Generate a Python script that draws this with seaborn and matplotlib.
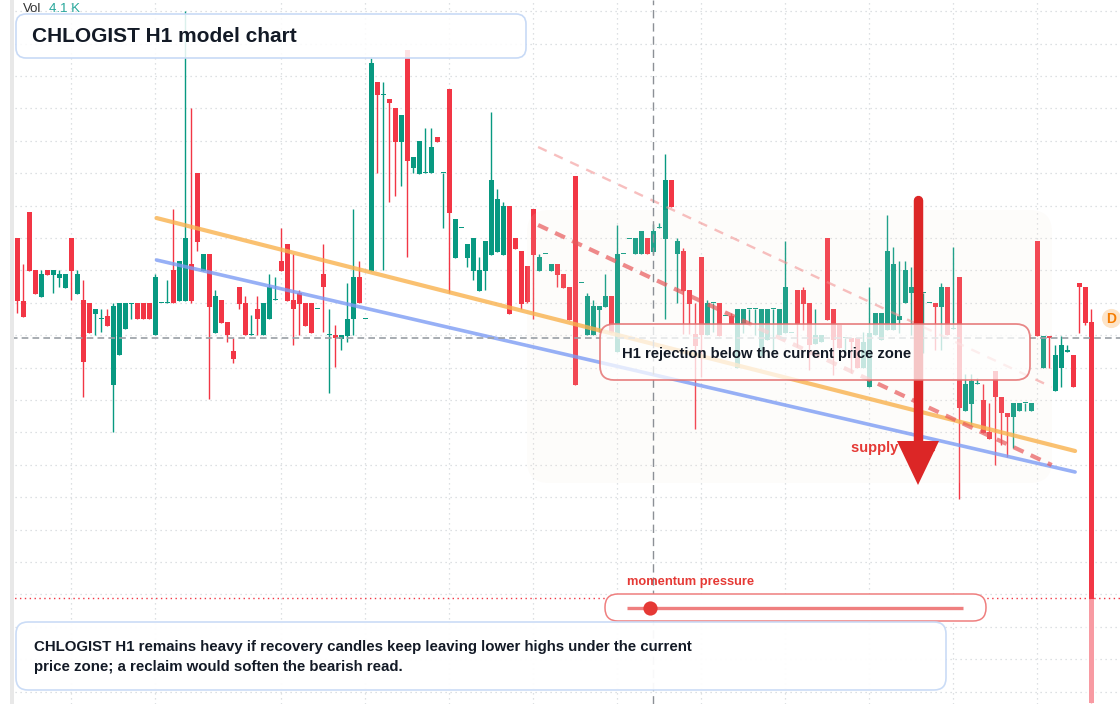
import numpy as np
import matplotlib
matplotlib.use("Agg")
import matplotlib.pyplot as plt
import seaborn as sns
from matplotlib.patches import FancyBboxPatch, Polygon, Rectangle

# OHLC per hourly candle (price units)
opens = [46.6, 40.3, 49.2, 43.4, 40.7, 43.4, 42.9, 42.6, 41.6, 46.6,
         41.0, 40.4, 40.1, 39.0, 38.5, 38.8, 31.9, 34.9, 37.5, 40.0,
         40.1, 40.1, 40.1, 36.9, 40.1, 40.1, 43.4, 40.3, 40.3, 44.0,
         53.1, 43.3, 45.0, 37.1, 40.4, 38.2, 35.3, 41.7, 40.1, 36.9,
         39.5, 36.9, 38.5, 40.4, 44.3, 46.0, 40.4, 41.1, 40.1, 40.1,
         39.5, 43.0, 36.9, 36.9, 36.5, 36.8, 38.5, 42.7, 38.5, 43.3,
         62.2, 60.9, 60.5, 59.6, 56.2, 65.4, 53.6, 53.0, 53.1, 53.1,
         56.7, 53.1, 61.5, 44.6, 47.6, 44.6, 43.3, 41.3, 43.3, 44.9,
         45.2, 44.9, 49.8, 46.6, 45.3, 43.8, 49.5, 43.3, 45.0, 43.3,
         44.0, 43.0, 41.7, 52.8, 42.1, 36.9, 36.9, 39.4, 39.7, 40.8,
         35.2, 45.0, 46.5, 45.0, 45.0, 46.6, 45.2, 47.6, 46.5, 52.4,
         45.0, 45.3, 41.4, 37.0, 44.7, 36.9, 40.1, 40.1, 38.8, 38.8,
         33.6, 38.0, 39.5, 39.5, 34.8, 36.4, 39.5, 36.9, 37.1, 37.1,
         41.4, 41.4, 40.1, 36.0, 36.2, 46.6, 39.5, 37.9, 36.6, 36.6,
         36.6, 33.6, 31.7, 36.9, 36.4, 37.4, 37.4, 38.4, 40.1, 41.1,
         41.1, 41.1, 40.1, 40.1, 39.7, 41.7, 37.5, 42.7, 29.3, 30.0,
         32.0, 30.4, 27.2, 33.3, 30.7, 29.1, 28.7, 29.3, 30.1, 29.3,
         46.3, 33.6, 36.8, 31.3, 33.6, 35.2, 34.9, 42.1, 41.7, 38.2]
highs = [46.6, 44.0, 49.2, 43.4, 43.4, 43.4, 43.4, 43.4, 43.0, 46.6,
         43.4, 42.4, 40.1, 39.5, 39.5, 39.5, 40.1, 40.1, 40.1, 40.1,
         40.1, 40.1, 40.1, 43.0, 40.1, 42.4, 49.5, 44.3, 69.3, 59.6,
         53.1, 45.0, 45.0, 41.4, 40.4, 38.2, 36.6, 41.7, 40.8, 38.9,
         40.8, 40.1, 43.0, 42.7, 47.6, 46.0, 45.0, 41.4, 40.1, 40.1,
         39.5, 46.0, 39.5, 37.9, 36.9, 42.1, 49.5, 44.3, 38.5, 64.6,
         62.2, 62.2, 60.5, 59.6, 58.9, 65.4, 54.7, 56.3, 57.6, 57.6,
         56.7, 53.1, 61.5, 48.5, 47.6, 46.0, 46.6, 44.7, 46.3, 59.2,
         51.5, 50.2, 49.8, 46.6, 45.3, 43.8, 49.5, 45.0, 45.0, 44.0,
         44.0, 43.0, 41.7, 52.8, 42.1, 41.1, 40.4, 39.8, 43.0, 40.8,
         47.9, 45.0, 46.5, 46.6, 47.3, 46.6, 48.0, 48.1, 55.0, 52.4,
         46.6, 45.6, 41.4, 40.1, 44.7, 40.4, 40.1, 40.1, 38.8, 39.1,
         39.5, 39.5, 39.5, 39.5, 39.5, 39.5, 39.5, 39.5, 46.3, 37.1,
         41.4, 41.7, 40.1, 39.5, 36.9, 46.6, 39.5, 37.9, 36.6, 36.6,
         36.6, 37.2, 41.7, 39.1, 39.1, 48.9, 45.7, 44.3, 44.3, 43.7,
         41.1, 41.1, 40.1, 40.1, 42.1, 41.7, 45.7, 42.7, 33.0, 33.0,
         32.6, 32.0, 30.1, 33.3, 30.7, 29.1, 30.1, 30.1, 30.1, 30.1,
         46.3, 36.8, 36.8, 35.9, 36.8, 35.9, 34.9, 42.1, 41.7, 39.5]
lows = [39.1, 38.7, 43.3, 41.0, 40.7, 42.9, 41.1, 41.7, 41.6, 40.4,
        41.0, 30.7, 37.1, 36.9, 37.2, 37.8, 27.2, 34.9, 37.5, 38.5,
        38.5, 38.5, 38.5, 36.9, 40.1, 40.1, 40.1, 40.3, 40.3, 40.1,
        45.3, 43.3, 30.5, 37.1, 38.1, 36.2, 34.1, 39.5, 36.9, 36.9,
        36.9, 36.9, 38.5, 40.4, 43.3, 40.3, 35.9, 36.9, 37.8, 37.1,
        39.5, 37.2, 31.1, 33.7, 35.4, 36.2, 36.9, 40.1, 38.5, 43.3,
        53.1, 43.4, 50.2, 50.8, 51.8, 44.7, 53.1, 53.0, 53.1, 53.1,
        56.2, 47.6, 41.1, 44.6, 47.6, 43.7, 42.4, 41.3, 41.4, 44.9,
        45.2, 44.9, 39.0, 45.5, 39.5, 40.1, 38.5, 43.3, 45.0, 43.3,
        41.7, 41.6, 38.4, 31.9, 42.1, 36.9, 36.9, 37.2, 39.7, 37.1,
        35.2, 45.0, 46.5, 45.0, 45.0, 45.0, 45.0, 47.6, 38.5, 49.7,
        40.1, 37.0, 37.0, 27.5, 32.7, 36.9, 37.2, 36.8, 38.8, 38.0,
        33.6, 37.1, 37.9, 36.9, 34.8, 36.4, 35.1, 36.9, 37.1, 37.1,
        35.7, 37.4, 33.4, 36.0, 36.2, 38.4, 32.9, 35.6, 35.1, 33.1,
        33.6, 33.6, 31.7, 36.9, 36.4, 37.4, 37.4, 37.1, 40.1, 36.9,
        41.1, 35.1, 40.1, 35.4, 35.4, 36.9, 37.5, 20.5, 29.3, 27.9,
        32.0, 27.1, 26.5, 23.9, 25.9, 24.7, 25.6, 29.3, 29.3, 29.3,
        36.8, 33.6, 33.6, 31.3, 31.7, 35.2, 31.7, 37.1, 37.9, 0.1]
closes = [40.3, 38.7, 43.3, 41.0, 43.0, 42.9, 43.4, 43.0, 43.0, 43.3,
          43.0, 34.2, 37.1, 39.5, 38.6, 37.8, 39.8, 40.1, 40.1, 40.1,
          38.5, 38.5, 38.5, 42.7, 40.1, 40.1, 40.1, 44.3, 46.6, 40.3,
          46.2, 45.0, 39.7, 40.8, 38.1, 36.9, 34.5, 40.0, 36.9, 36.9,
          38.5, 40.1, 41.7, 40.4, 43.3, 40.3, 39.5, 40.0, 37.8, 37.1,
          39.5, 41.7, 36.9, 36.6, 36.9, 38.5, 42.7, 40.1, 38.5, 64.1,
          60.9, 60.9, 60.1, 56.2, 58.9, 54.3, 54.7, 56.3, 53.1, 55.7,
          56.2, 53.1, 49.1, 48.5, 47.6, 46.0, 46.6, 43.4, 46.3, 52.4,
          50.5, 49.8, 39.0, 45.5, 40.0, 40.2, 44.9, 44.7, 45.0, 44.0,
          42.9, 41.6, 38.4, 31.9, 42.1, 40.8, 39.8, 39.8, 40.8, 37.1,
          45.0, 45.0, 46.5, 46.6, 47.3, 45.0, 47.3, 47.6, 52.4, 49.7,
          46.3, 41.3, 40.0, 35.8, 36.9, 40.1, 40.1, 36.8, 38.8, 38.0,
          39.5, 39.5, 39.5, 39.5, 39.5, 39.5, 39.5, 39.5, 41.7, 37.1,
          38.0, 40.0, 35.9, 36.9, 36.9, 38.4, 36.4, 35.6, 36.6, 36.2,
          33.6, 36.2, 37.1, 39.1, 39.1, 45.3, 44.0, 38.8, 43.4, 41.7,
          41.1, 41.1, 40.1, 39.7, 41.7, 36.9, 37.5, 29.6, 32.0, 32.3,
          32.0, 27.1, 26.5, 30.7, 29.1, 28.7, 30.1, 30.1, 30.1, 30.1,
          36.8, 36.8, 36.6, 34.9, 35.9, 35.4, 31.7, 41.7, 38.1, 0.1]

# drawn lines: (candle index, price)
resistance_x = [23.2, 176.3]
resistance_y = [48.6, 25.3]
support_x = [23.2, 176.3]
support_y = [44.4, 23.2]
channel_x = [86.8, 172.4]
channel_mid_y = [47.9, 23.9]
channel_top_y = [55.7, 31.7]
last_price = 36.6
alert_price = 10.6
cursor_idx = 106
day_breaks = [9, 23, 44, 58, 72, 86, 100, 114, 128, 142, 156, 170]

W, H = 1120, 704
UP, DOWN = "#089981", "#f23645"
INK = "#131a26"

sns.set_theme(style="white")
plt.rcParams["font.family"] = ["Liberation Sans", "DejaVu Sans"]

fig = plt.figure(figsize=(W / 100, H / 100), dpi=100)
ax = fig.add_axes([0, 0, 1, 1])
ax.set_xlim(-17.3 / 6, (W - 17.3) / 6)
ax.set_ylim(0, 70.4)


def P(x, y):
    # pixel position in the picture -> axes fraction
    return x / W, 1 - y / H


def rbox(x0, y0, x1, y1, r, **kw):
    patch = FancyBboxPatch((x0 / W, 1 - y1 / H), (x1 - x0) / W, (y1 - y0) / H,
                           boxstyle=f"round,pad=0,rounding_size={r / W}",
                           mutation_aspect=W / H, transform=ax.transAxes, **kw)
    ax.add_patch(patch)
    return patch


# grid
ax.set_xticks(day_breaks)
ax.set_yticks(np.arange(69.28, 0, -3.24))
ax.grid(True, color="#d3d6da", linestyle=(0, (1, 3)), lw=0.9)
ax.tick_params(labelleft=False, labelbottom=False, length=0)
for s in ax.spines.values():
    s.set_visible(False)

# candles
o = np.array(opens)
c = np.array(closes)
idx = np.arange(len(o))
colors = np.where(c >= o, UP, DOWN)
ax.vlines(idx, lows, highs, colors=colors, lw=1, zorder=2)
ax.bar(idx, np.maximum(np.abs(c - o), 0.15), bottom=np.minimum(o, c),
       width=0.8, color=colors, linewidth=0, zorder=2.1)

# faded tail of the last candle
rbox(1083, 599, 1100, 704, 0.1, fc="white", ec="none", alpha=0.5, zorder=2.5)

# zone shading
rbox(527, 210, 1052, 483, 22, fc="#f3e4d6", ec="none", alpha=0.11, zorder=3)

# trend lines
sns.lineplot(x=resistance_x, y=resistance_y, ax=ax, color="#f9b24e", lw=3, alpha=0.8, zorder=4)
sns.lineplot(x=support_x, y=support_y, ax=ax, color="#7d9cf4", lw=2.6, alpha=0.8, zorder=4)
sns.lineplot(x=channel_x, y=channel_mid_y, ax=ax, color="#e8585a", lw=3, alpha=0.7,
             linestyle=(0, (2.6, 1.9)), zorder=4)
sns.lineplot(x=channel_x, y=channel_top_y, ax=ax, color="#f28b8b", lw=1.7, alpha=0.55,
             linestyle=(0, (4, 3.5)), zorder=4)

ax.axhline(last_price, color="#9aa0a6", lw=1.2, ls=(0, (4, 2.5)), zorder=4.5)
ax.axvline(cursor_idx, color="#8c9096", lw=1, ls=(0, (6, 3.5)), zorder=4.5)
ax.axhline(alert_price, color=DOWN, lw=1, ls=(0, (1, 2.5)), zorder=4.5)

# supply zone label + arrow
ax.text(*P(851, 448), "supply zone", transform=ax.transAxes, color="#e53935",
        fontsize=10.5, fontweight="bold", va="center", zorder=5)
ax.plot(*zip(P(918, 200), P(918, 445)), transform=ax.transAxes, color="#dc2626",
        lw=6.8, solid_capstyle="round", zorder=6)
ax.add_patch(Polygon([P(897, 441), P(939, 441), P(918, 485)], closed=True,
                     transform=ax.transAxes, fc="#dc2626", ec="none", zorder=6))

# rejection label
rbox(600, 324, 1030, 380, 14, fc="white", ec="none", alpha=0.74, zorder=7)
rbox(600, 324, 1030, 380, 14, fc="none", ec="#e57373", lw=1.3, alpha=0.85, zorder=7.1)
ax.text(*P(622, 354), "H1 rejection below the current price zone", transform=ax.transAxes,
        color=INK, fontsize=10.7, fontweight="bold", va="center", zorder=8)

# title box
rbox(16, 14, 526, 58, 10, fc="white", ec="none", alpha=0.86, zorder=7)
rbox(16, 14, 526, 58, 10, fc="none", ec="#c8daf6", lw=1.2, zorder=7.1)
ax.text(*P(32, 36), "CHLOGIST H1 model chart", transform=ax.transAxes, color=INK,
        fontsize=15, fontweight="bold", va="center", zorder=8)
ax.text(*P(23, 9), "Vol", transform=ax.transAxes, color="#333333", fontsize=9.5,
        va="center", zorder=8)
ax.text(*P(49, 9), "4.1 K", transform=ax.transAxes, color="#26a69a", fontsize=9.5,
        va="center", zorder=8)

# momentum gauge
ax.text(*P(627, 582), "momentum pressure", transform=ax.transAxes, color="#e53935",
        fontsize=9.3, fontweight="bold", va="center", zorder=8)
rbox(605, 594, 986, 621, 13, fc="white", ec="#ef7f7f", lw=1.1, zorder=7)
ax.plot(*zip(P(627, 607.5), P(963, 607.5)), transform=ax.transAxes, color="#ef7f7f",
        lw=2.4, solid_capstyle="butt", zorder=8)
ax.scatter(*P(650, 607.5), s=105, color="#e53935", transform=ax.transAxes,
           linewidths=0, zorder=9)

# bottom note
rbox(16, 622, 946, 690, 12, fc="white", ec="#c8daf6", lw=1.2, alpha=0.95, zorder=7)
ax.text(*P(34, 647), "CHLOGIST H1 remains heavy if recovery candles keep leaving lower highs under the current",
        transform=ax.transAxes, color=INK, fontsize=10.8, fontweight="bold", va="center", zorder=8)
ax.text(*P(34, 667), "price zone; a reclaim would soften the bearish read.",
        transform=ax.transAxes, color=INK, fontsize=10.8, fontweight="bold", va="center", zorder=8)

# dividend marker
ax.scatter(*P(1111, 318), s=190, color="#fde4c8", transform=ax.transAxes,
           linewidths=0, zorder=8, clip_on=False)
ax.text(*P(1111, 319), "D", transform=ax.transAxes, color="#f57c00", fontsize=10,
        fontweight="bold", ha="center", va="center", zorder=9)

# left edge strip
ax.add_patch(Rectangle((0, 0), 10 / W, 1, transform=ax.transAxes, fc="white", ec="none", zorder=10))
ax.add_patch(Rectangle((10 / W, 0), 4 / W, 1, transform=ax.transAxes, fc="#e8e8e8", ec="none", zorder=10))

fig.savefig("out.png", dpi=100)
